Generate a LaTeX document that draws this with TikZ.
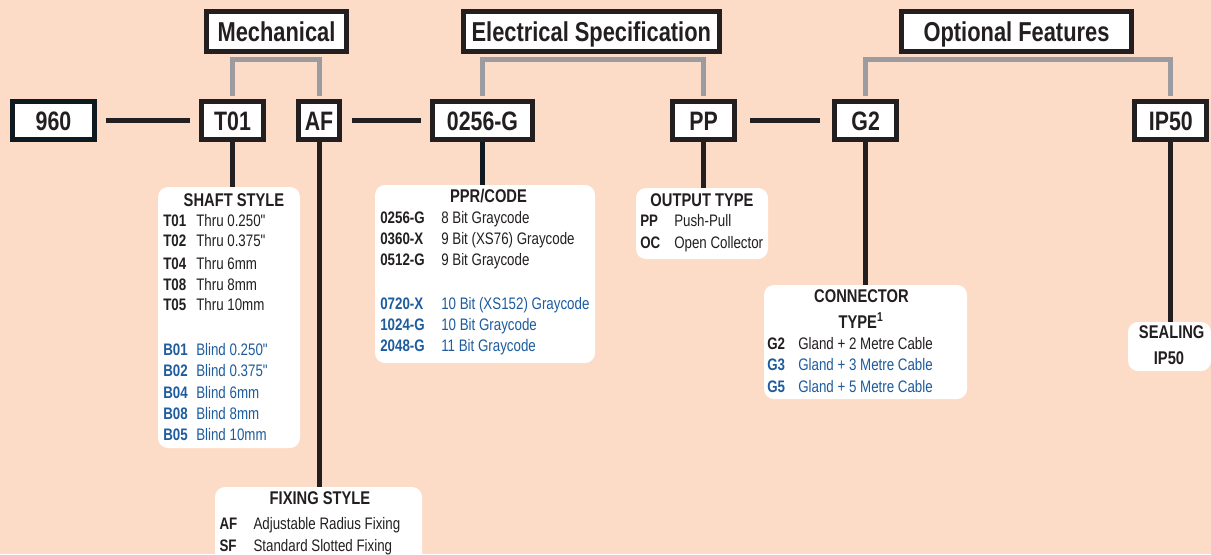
\documentclass[tikz,border=0pt]{standalone}
\usepackage{fontspec}
\setmainfont{Liberation Sans}[FakeStretch=0.8, Ligatures=TeXOff]

\definecolor{peach}{RGB}{252,220,198}
\definecolor{ink}{RGB}{35,31,32}
\definecolor{navy}{RGB}{14,26,32}
\definecolor{wire}{RGB}{156,156,160}
\definecolor{blue}{RGB}{30,92,158}

\begin{document}
\begin{tikzpicture}[
    x=0.75pt, y=-0.75pt,                    % <- 1 unit = 1 px of the sheet, y runs down
    header/.style={draw=ink, line width=3.75pt, fill=white, inner sep=0pt, minimum height=30pt,
      text height=14.7pt, text depth=0pt, text=ink, font=\fontsize{20.5}{24}\selectfont\bfseries},
    codebox/.style={header, minimum height=28.5pt, text height=14.3pt,
      font=\fontsize{20}{24}\selectfont\bfseries},
    panel/.style={fill=white, rounded corners=7.5pt, inner sep=0pt},
    bracket/.style={draw=wire, line width=3.75pt, shorten <=1.9pt, shorten >=1.9pt},
    link/.style={draw=ink, line width=3.75pt},
    title/.style={font=\fontsize{13.8}{16}\selectfont\bfseries, text=ink, anchor=base, inner sep=0pt},
    key/.style={font=\fontsize{12.5}{15}\selectfont\bfseries, anchor=base west, inner sep=0pt},
    desc/.style={font=\fontsize{12.5}{15}\selectfont, anchor=base west, inner sep=0pt},
  ]

  % ---------- sheet ----------
  \useasboundingbox (0,0) rectangle (1211,554);
  \clip (0,0) rectangle (1211,554);
  \fill[peach] (0,0) rectangle (1211,554);

  % ---------- group headers ----------
  \node[header, minimum width=105pt]   (mech) at (276.5,31.5)  {Mechanical};
  \node[header, minimum width=192pt]   (elec) at (591.3,31.5)  {Electrical Specification};
  \node[header, minimum width=172.5pt] (opt)  at (1016.5,31.5) {Optional Features};

  % ---------- part number boxes ----------
  \node[codebox, draw=navy, minimum width=61.5pt] (c960)  at (53.5,120.5)  {960};
  \node[codebox, minimum width=46.5pt]            (t01)   at (232.5,120.5) {T01};
  \node[codebox, minimum width=31.3pt]            (af)    at (319,120.5)   {AF};
  \node[codebox, minimum width=75pt]              (p0256) at (482.5,120.5) {0256-G};
  \node[codebox, minimum width=46.5pt]            (pp)    at (703.5,120.5) {PP};
  \node[codebox, minimum width=46.3pt]            (g2)    at (865.7,120.5) {G2};
  \node[codebox, minimum width=54pt]              (ip50)  at (1170.8,120.5) {IP50};

  % ---------- option panels ----------
  \node[panel, minimum width=106.5pt,  minimum height=195.75pt] (shaftbox) at (229,317.5)   {};
  \node[panel, minimum width=165pt,    minimum height=133.5pt]  (pprbox)   at (485,274)     {};
  \node[panel, minimum width=99pt,     minimum height=53.25pt]  (outbox)   at (702,223.5)   {};
  \node[panel, minimum width=152.25pt, minimum height=85.5pt]   (connbox)  at (865.5,342)   {};
  \node[panel, minimum width=62.25pt,  minimum height=36.75pt]  (sealbox)  at (1169.5,346.5) {};
  \node[panel, minimum width=155.25pt, minimum height=62.25pt]  (fixbox)   at (318.5,528.5) {};

  % ---------- grey group brackets ----------
  \draw[bracket] (t01.north)   |- ([yshift=-3.9pt]mech.south) -| (af.north);
  \draw[bracket] (p0256.north) |- ([yshift=-3.9pt]elec.south) -| (pp.north);
  \draw[bracket] (g2.north)    |- ([yshift=-3.9pt]opt.south)  -| (ip50.north);

  % ---------- part number chain ----------
  \draw[link, shorten <=7pt, shorten >=7pt]     (c960) -- (t01);
  \draw[link, shorten <=7pt, shorten >=7pt]     (af) -- (p0256);
  \draw[link, shorten <=10pt, shorten >=9pt]    (pp) -- (g2);

  % ---------- drops to the panels ----------
  \draw[link] (t01.south)   -- (t01.south |- shaftbox.north);
  \draw[link] (af.south)    -- (af.south |- fixbox.north);
  \draw[link, draw=navy] (p0256.south) -- (p0256.south |- pprbox.north);
  \draw[link] (pp.south)    -- (pp.south |- outbox.north);
  \draw[link] (g2.south)    -- (g2.south |- connbox.north);
  \draw[link] (ip50.south)  -- (ip50.south |- sealbox.north);

  % ---------- shaft style ----------
  \node[title] (shaft-t) at (234,206) {SHAFT STYLE};
  \foreach \y/\c/\d/\clr in {%
    226.5/T01/Thru 0.250"/ink, 246.5/T02/Thru 0.375"/ink, 269/T04/Thru 6mm/ink,
    290/T08/Thru 8mm/ink, 310.5/T05/Thru 10mm/ink,
    355/B01/Blind 0.250"/blue, 376/B02/Blind 0.375"/blue, 398/B04/Blind 6mm/blue,
    419/B08/Blind 8mm/blue, 440/B05/Blind 10mm/blue}{%
    \node[key, text=\clr]  (shaft-\c)  at (163,\y) {\c};
    \node[desc, text=\clr] (shaft-\c-d) at (196,\y) {\d};
  }

  % ---------- ppr / code ----------
  \node[title] (ppr-t) at (488.5,202) {PPR/CODE};
  \foreach \y/\c/\d/\clr in {%
    223/0256-G/8 Bit Graycode/ink, 244/0360-X/9 Bit (XS76) Graycode/ink,
    265.5/0512-G/9 Bit Graycode/ink,
    309/0720-X/10 Bit (XS152) Graycode/blue, 330/1024-G/10 Bit Graycode/blue,
    351/2048-G/11 Bit Graycode/blue}{%
    \node[key, text=\clr]  (ppr-\c)   at (380,\y) {\c};
    \node[desc, text=\clr] (ppr-\c-d) at (441,\y) {\d};
  }

  % ---------- output type ----------
  \node[title] (out-t) at (702,206) {OUTPUT TYPE};
  \foreach \y/\c/\d in {226.5/PP/Push-Pull, 248/OC/Open Collector}{%
    \node[key, text=ink]  (out-\c)   at (640,\y) {\c};
    \node[desc, text=ink] (out-\c-d) at (674,\y) {\d};
  }

  % ---------- connector type ----------
  \node[title] (conn-t)  at (861.5,302.5) {CONNECTOR};
  \node[title] (conn-t2) at (861,328)     {TYPE\textsuperscript{1}};
  \foreach \y/\c/\d/\clr in {%
    349/G2/Gland + 2 Metre Cable/ink, 370.5/G3/Gland + 3 Metre Cable/blue,
    392/G5/Gland + 5 Metre Cable/blue}{%
    \node[key, text=\clr]  (conn-\c)   at (767,\y) {\c};
    \node[desc, text=\clr] (conn-\c-d) at (798,\y) {\d};
  }

  % ---------- sealing ----------
  \node[title] (seal-t) at (1171.7,338) {SEALING};
  \node[title] (seal-c) at (1169,364)   {IP50};

  % ---------- fixing style ----------
  \node[title] (fix-t) at (320,504) {FIXING STYLE};
  \foreach \y/\c/\d in {529/AF/Adjustable Radius Fixing, 551.5/SF/Standard Slotted Fixing}{%
    \node[key, text=ink]  (fix-\c)   at (219.3,\y) {\c};
    \node[desc, text=ink] (fix-\c-d) at (253.3,\y) {\d};
  }

\end{tikzpicture}
\end{document}
